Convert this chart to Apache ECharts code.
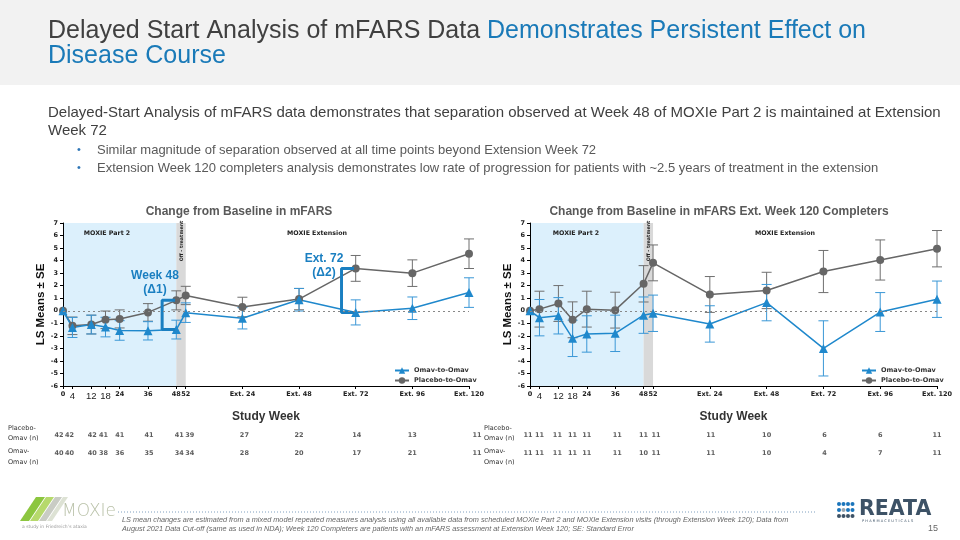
<!DOCTYPE html>
<html><head><meta charset="utf-8">
<script src="https://cdn.jsdelivr.net/npm/echarts@6/dist/echarts.min.js"></script>
<style>html,body{margin:0;padding:0;background:#fff}#c{width:960px;height:540px}</style>
</head><body><div id="c"></div>
<script>
// ---- data ----
const weeks = [0,4,12,18,24,36,48,52,76,100,124,148,172];
const weekLabels = ['0','4','12','18','24','36','48','52','Ext. 24','Ext. 48','Ext. 72','Ext. 96','Ext. 120'];
// Left chart: all patients
const omavMean = [0,-1.33,-1.1,-1.3,-1.57,-1.6,-1.5,-0.15,-0.6,0.88,-0.13,0.2,1.45];
const omavSE   = [0,0.8,0.75,0.78,0.78,0.73,0.75,0.78,0.85,0.9,1.0,0.9,1.18];
const placMean = [0,-1.2,-1.1,-0.72,-0.65,-0.13,0.83,1.22,0.3,0.93,3.38,3.0,4.55];
const placSE   = [0,0.7,0.75,0.7,0.72,0.7,0.76,0.73,0.78,0.85,1.03,1.06,1.18];
const placN = [42,42,42,41,41,41,41,39,27,22,14,13,11];
const omavN = [40,40,40,38,36,35,34,34,28,20,17,21,11];
// Right chart: Ext. Week 120 completers
const compOmavMean = [0,-0.55,-0.4,-2.2,-1.85,-1.8,-0.35,-0.2,-1.05,0.65,-3.0,-0.1,0.92];
const compOmavSE   = [0,1.45,1.45,1.45,1.45,1.45,1.45,1.45,1.45,1.45,2.2,1.55,1.45];
const compPlacMean = [0,0.13,0.58,-0.72,0.13,0.05,2.15,3.82,1.3,1.62,3.13,4.05,4.95];
const compPlacSE   = [0,1.43,1.43,1.43,1.43,1.43,1.45,1.43,1.43,1.45,1.68,1.6,1.45];
const compPlacN = [11,11,11,11,11,11,11,11,11,10,6,6,11];
const compOmavN = [11,11,11,11,11,11,10,11,11,10,4,7,11];

const BLUE = '#1f88cc', GREY = '#666666', BRACKET = '#1a7fc1';
const SMALL = 'DejaVu Sans';
const SANS = 'Liberation Sans';
// label nudges (px) for the n-tables so adjacent counts don't touch
const leftNudge  = [-4,-3,1,-2,0,1,3,4,2,0,1,0,8];
const rightNudge = [-2,0,-1,0,0,2,0,3,1,0,1,0,0];

const chart = echarts.init(document.getElementById('c'), null, {renderer:'canvas'});

function xAx(gi){
  return {type:'value', gridIndex:gi, min:0, max:172,
    axisLine:{show:true, onZero:false, lineStyle:{color:'#000', width:1}},
    axisTick:{show:true, customValues:weeks, length:3, lineStyle:{color:'#000'}},
    axisLabel:{customValues:weeks, hideOverlap:false, margin:5, fontSize:6.5, fontWeight:'bold', color:'#222', fontFamily:SMALL,
      formatter:v=>{const t = weekLabels[weeks.indexOf(v)]; return (t==='4'||t==='12'||t==='18')?'{big|'+t+'}':t;},
      rich:{big:{fontSize:9.5, fontFamily:SANS, color:'#222', fontWeight:'normal'}}},
    splitLine:{show:false},
    name:'Study Week', nameLocation:'middle', nameGap:25,
    nameTextStyle:{fontSize:12, fontWeight:'bold', fontFamily:SANS, color:'#333'}};
}
function yAx(gi){
  return {type:'value', gridIndex:gi, min:-6, max:7, interval:1,
    axisLine:{show:true, lineStyle:{color:'#000'}},
    axisTick:{show:true, length:3, lineStyle:{color:'#000'}},
    axisLabel:{fontSize:6.5, fontWeight:'bold', color:'#222', fontFamily:SMALL, margin:5},
    splitLine:{show:false},
    name:'LS Means ± SE', nameLocation:'middle', nameGap:10,
    nameTextStyle:{fontSize:11.5, fontWeight:'bold', fontFamily:SANS, color:'#111'}};
}
function hiddenX(gi){ return {type:'value', gridIndex:gi, min:0, max:172, show:false}; }
function hiddenY(gi){ return {type:'value', gridIndex:gi, min:0, max:1, show:false}; }

function errSeries(gi, means, ses, color){
  const data = [];
  weeks.forEach((w,i)=>{ if(ses[i]>0) data.push([w, means[i]-ses[i], means[i]+ses[i]]); });
  return {type:'custom', xAxisIndex:gi, yAxisIndex:gi, data, silent:true, z:2,
    encode:{x:0, y:[1,2]},
    renderItem:(params, api)=>{
      const x = api.value(0);
      const lo = api.coord([x, api.value(1)]);
      const hi = api.coord([x, api.value(2)]);
      const w = 5;
      const st = {stroke:color, lineWidth:1};
      return {type:'group', children:[
        {type:'line', shape:{x1:lo[0],y1:lo[1],x2:hi[0],y2:hi[1]}, style:st},
        {type:'line', shape:{x1:lo[0]-w,y1:lo[1],x2:lo[0]+w,y2:lo[1]}, style:st},
        {type:'line', shape:{x1:hi[0]-w,y1:hi[1],x2:hi[0]+w,y2:hi[1]}, style:st}
      ]};
    }};
}
function lineSeries(gi, name, means, color, symbol, size, withMarks){
  const s = {type:'line', name, xAxisIndex:gi, yAxisIndex:gi,
    data: weeks.map((w,i)=>[w, means[i]]),
    symbol, symbolSize:size, showAllSymbol:true, color,
    itemStyle:{color}, lineStyle:{color, width:1.5}, z:3, silent:true};
  if(withMarks){
    s.markArea = {silent:true, z:0, data:[
      [{xAxis:0, itemStyle:{color:'#dcf0fc'}},{xAxis:48}],
      [{xAxis:48, itemStyle:{color:'#d9d9d9'}},{xAxis:52}]
    ]};
    s.markLine = {silent:true, symbol:'none', label:{show:false},
      lineStyle:{type:[2,3], color:'#888', width:1}, data:[{yAxis:0}]};
  }
  return s;
}
function nSeries(gi, row, ns, nudge){
  return {type:'scatter', xAxisIndex:gi, yAxisIndex:gi, symbolSize:0, silent:true,
    data: weeks.map((w,i)=>({value:[w, row, ns[i]], label:{offset:[nudge[i],0]}})),
    label:{show:true, position:'inside', formatter:p=>String(p.value[2]),
      fontSize:6.5, fontWeight:'bold', fontFamily:SMALL, color:'#333'}};
}
function bracket(gi, idx, xStart, xEnd, top, bottom){
  return {type:'line', xAxisIndex:gi, yAxisIndex:gi, symbol:'none', silent:true, z:4,
    lineStyle:{color:BRACKET, width:3}, itemStyle:{color:BRACKET},
    data:[[xEnd, top[idx]],[xStart, top[idx]],[xStart, bottom[idx]],[xEnd, bottom[idx]]]};
}

function txt(x, y, text, opt){
  return {type:'text', x, y, z:100, silent:true, style:Object.assign({text, fill:'#333', align:'left', verticalAlign:'middle',
    fontFamily:SANS, fontSize:12}, opt||{})};
}

const legendCommon = {orient:'vertical', itemWidth:14, itemHeight:8, itemGap:3,
  textStyle:{fontSize:6.5, fontWeight:'bold', fontFamily:SMALL, color:'#333'}, selectedMode:false,
  data:['Omav-to-Omav','Placebo-to-Omav']};

const graphic = [
  {type:'rect', shape:{x:0,y:0,width:960,height:85}, style:{fill:'#f2f2f2'}, silent:true, z:-10},
  {type:'text', x:48, y:19, z:100, silent:true, style:{
    text:'{a|Delayed Start Analysis of mFARS Data }{b|Demonstrates Persistent Effect on}\n{b|Disease Course}',
    rich:{a:{fontSize:25, fontFamily:SANS, fill:'#404040', lineHeight:25},
          b:{fontSize:25, fontFamily:SANS, fill:'#1a7ab8', lineHeight:25}}}},
  txt(48, 113, 'Delayed-Start Analysis of mFARS data demonstrates that separation observed at Week 48 of MOXIe Part 2 is maintained at Extension', {fontSize:15, fill:'#404040'}),
  txt(48, 131, 'Week 72', {fontSize:15, fill:'#404040'}),
  txt(77, 150, '•', {fontSize:11, fill:'#2e75b6'}),
  txt(97, 150, 'Similar magnitude of separation observed at all time points beyond Extension Week 72', {fontSize:13, fill:'#595959'}),
  txt(77, 168, '•', {fontSize:11, fill:'#2e75b6'}),
  txt(97, 168, 'Extension Week 120 completers analysis demonstrates low rate of progression for patients with ~2.5 years of treatment in the extension', {fontSize:13, fill:'#595959'}),
  // chart titles
  txt(239, 212, 'Change from Baseline in mFARS', {align:'center', fontWeight:'bold', fontSize:12, fill:'#595959'}),
  txt(719, 212, 'Change from Baseline in mFARS Ext. Week 120 Completers', {align:'center', fontWeight:'bold', fontSize:12, fill:'#595959'}),
  // region labels
  txt(107, 233, 'MOXIE Part 2', {align:'center', fontFamily:SMALL, fontWeight:'bold', fontSize:6.3, fill:'#222'}),
  txt(317, 233, 'MOXIE Extension', {align:'center', fontFamily:SMALL, fontWeight:'bold', fontSize:6.3, fill:'#222'}),
  txt(576, 233, 'MOXIE Part 2', {align:'center', fontFamily:SMALL, fontWeight:'bold', fontSize:6.3, fill:'#222'}),
  txt(785, 233, 'MOXIE Extension', {align:'center', fontFamily:SMALL, fontWeight:'bold', fontSize:6.3, fill:'#222'}),
  {type:'text', x:181.5, y:241, z:100, rotation:Math.PI/2, silent:true, style:{text:'Off - treatment', align:'center', verticalAlign:'middle', fontFamily:SMALL, fontWeight:'bold', fontSize:4.8, fill:'#222'}},
  {type:'text', x:649, y:241, z:100, rotation:Math.PI/2, silent:true, style:{text:'Off - treatment', align:'center', verticalAlign:'middle', fontFamily:SMALL, fontWeight:'bold', fontSize:4.8, fill:'#222'}},
  // bracket labels
  txt(155, 276, 'Week 48', {align:'center', fontWeight:'bold', fontSize:12, fill:BRACKET}),
  txt(155, 290, '(Δ1)', {align:'center', fontWeight:'bold', fontSize:12, fill:BRACKET}),
  txt(324, 259, 'Ext. 72', {align:'center', fontWeight:'bold', fontSize:12, fill:BRACKET}),
  txt(324, 273, '(Δ2)', {align:'center', fontWeight:'bold', fontSize:12, fill:BRACKET}),
  // table row labels
  txt(8, 428, 'Placebo-', {fontFamily:SMALL, fontSize:6.5, fill:'#333'}),
  txt(8, 438, 'Omav (n)', {fontFamily:SMALL, fontSize:6.5, fill:'#333'}),
  txt(8, 451, 'Omav-', {fontFamily:SMALL, fontSize:6.5, fill:'#333'}),
  txt(8, 462, 'Omav (n)', {fontFamily:SMALL, fontSize:6.5, fill:'#333'}),
  txt(484, 428, 'Placebo-', {fontFamily:SMALL, fontSize:6.5, fill:'#333'}),
  txt(484, 438, 'Omav (n)', {fontFamily:SMALL, fontSize:6.5, fill:'#333'}),
  txt(484, 451, 'Omav-', {fontFamily:SMALL, fontSize:6.5, fill:'#333'}),
  txt(484, 462, 'Omav (n)', {fontFamily:SMALL, fontSize:6.5, fill:'#333'}),
  // footer: MOXIe logo
  {type:'polygon', shape:{points:[[20,521],[29,521],[45,497],[36,497]]}, style:{fill:'#8cc63f'}, silent:true},
  {type:'polygon', shape:{points:[[30,521],[38,521],[54,497],[46,497]]}, style:{fill:'#b6d96c'}, silent:true},
  {type:'polygon', shape:{points:[[39,521],[46,521],[62,497],[55,497]]}, style:{fill:'#c9ccc4'}, silent:true},
  {type:'polygon', shape:{points:[[47,521],[52,521],[68,497],[63,497]]}, style:{fill:'#dde2d4'}, silent:true},
  txt(62, 512, 'MOXIe', {fontSize:17, fill:'#b9c1a8', fontFamily:'DejaVu Sans', fontWeight:'lighter'}),
  txt(22, 527, 'a study in Friedreich\u2019s ataxia', {fontSize:4.5, fill:'#9a9a9a', fontFamily:SMALL}),
  {type:'line', shape:{x1:118,y1:512,x2:817,y2:512}, style:{stroke:'#7f9fbf', lineWidth:1, lineDash:[1,2]}, silent:true},
  txt(122, 520, 'LS mean changes are estimated from a mixed model repeated measures analysis using all available data from scheduled MOXIe Part 2 and MOXIe Extension visits (through Extension Week 120); Data from', {fontSize:7.3, fontStyle:'italic', fill:'#666'}),
  txt(122, 529, 'August 2021 Data Cut-off (same as used in NDA); Week 120 Completers are patients with an mFARS assessment at Extension Week 120; SE: Standard Error', {fontSize:7.3, fontStyle:'italic', fill:'#666'}),
  // REATA logo
  txt(859, 510, 'REATA', {fontSize:20.5, fontWeight:'bold', fill:'#3d5266', fontFamily:SMALL}),
  txt(862, 521, 'P H A R M A C E U T I C A L S', {fontSize:3.6, fill:'#3d5266', fontFamily:SMALL}),
  txt(928, 529, '15', {fontSize:9, fill:'#666'})
];
// REATA dot grid
const dotColors = [
  ['#1b75bb','#1b75bb','#1b75bb','#1b75bb'],
  ['#1b75bb','#9aa5ad','#1b75bb','#1b75bb'],
  ['#3d5266','#3d5266','#3d5266','#3d5266']
];
dotColors.forEach((row,r)=>row.forEach((c,k)=>{
  graphic.push({type:'circle', shape:{cx:839+k*4.5, cy:504+r*6, r:2}, style:{fill:c}, silent:true});
}));

const option = {
  animation:false,
  backgroundColor:'#fff',
  grid:[
    {left:63, top:223, width:406, height:163},
    {left:530, top:223, width:407, height:163},
    {left:63, top:435, width:406, height:18},
    {left:530, top:435, width:407, height:18}
  ],
  xAxis:[xAx(0), xAx(1), hiddenX(2), hiddenX(3)],
  yAxis:[yAx(0), yAx(1), hiddenY(2), hiddenY(3)],
  legend:[
    Object.assign({left:389, top:362}, legendCommon),
    Object.assign({left:856, top:362}, legendCommon)
  ],
  series:[
    lineSeries(0, 'Placebo-to-Omav', placMean, GREY, 'circle', 8, false),
    lineSeries(0, 'Omav-to-Omav', omavMean, BLUE, 'triangle', 9, true),
    errSeries(0, placMean, placSE, '#6f6f6f'),
    errSeries(0, omavMean, omavSE, '#3a97d6'),
    bracket(0, 6, 42, 47.5, placMean, omavMean),
    bracket(0, 10, 118, 123.3, placMean, omavMean),
    lineSeries(1, 'Placebo-to-Omav', compPlacMean, GREY, 'circle', 8, false),
    lineSeries(1, 'Omav-to-Omav', compOmavMean, BLUE, 'triangle', 9, true),
    errSeries(1, compPlacMean, compPlacSE, '#6f6f6f'),
    errSeries(1, compOmavMean, compOmavSE, '#3a97d6'),
    nSeries(2, 1, placN, leftNudge),
    nSeries(2, 0, omavN, leftNudge),
    nSeries(3, 1, compPlacN, rightNudge),
    nSeries(3, 0, compOmavN, rightNudge)
  ],
  graphic
};
chart.setOption(option);
</script>
</body></html>
